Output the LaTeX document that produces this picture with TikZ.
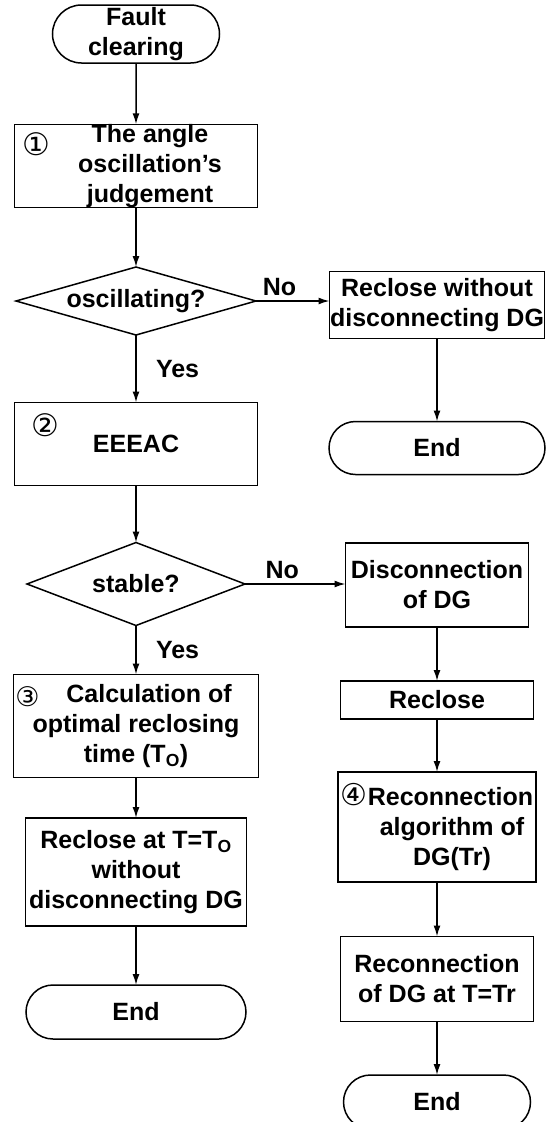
\documentclass[tikz,border=0pt]{standalone}
\usepackage{fontspec}
\setmainfont{Liberation Sans}
\newfontfamily\circfont{DejaVu Sans}
\usetikzlibrary{positioning,shapes.geometric,shapes.misc,arrows.meta}

\tikzset{
    every node/.style={font=\bfseries\fontsize{25}{30}\selectfont, align=center,
        inner sep=0pt, outer sep=0pt},
    stepbox/.style={rectangle, draw, line width=1.5pt},
    term/.style={rounded rectangle, draw, line width=1.5pt},
    decision/.style={diamond, draw, line width=1.5pt},
    num/.style={font=\circfont\mdseries\fontsize{31}{31}\selectfont},
    flow/.style={->, line width=1.5pt, >={Latex[length=11pt,width=7pt]}}
}

\begin{document}
\begin{tikzpicture}[x=1pt, y=1pt]
    \useasboundingbox (0,0) rectangle (547,-1122);
    
    % Left column
    \node[term, minimum width=167pt, minimum height=58pt] (start) at (136,-34) {Fault\\clearing};
    \node[stepbox, minimum width=243pt, minimum height=83pt] (judge) at (136,-166)
    	{\hspace*{28pt}The angle\\\hspace*{28pt}oscillation’s\\\hspace*{28pt}judgement};
    \node[decision, shape aspect=3.5, minimum width=240pt, minimum height=68pt] (osc) at (136,-301) {oscillating?};
    \node[stepbox, minimum width=243pt, minimum height=83pt] (eeeac) at (136,-444) {EEEAC};
    \node[decision, shape aspect=2.6, minimum width=218pt, minimum height=83pt] (stable) at (136,-584) {stable?};
    \node[stepbox, minimum width=245pt, minimum height=103pt] (calc) at (136,-726)
    	{\hspace*{26pt}Calculation of\\optimal reclosing\\time (T\textsubscript{O})};
    \node[stepbox, minimum width=221pt, minimum height=108pt] (reclT) at (136,-872)
    	{Reclose at T=T\textsubscript{O}\\without\\disconnecting DG};
    \node[term, minimum width=220pt, minimum height=54pt] (end2) at (136,-1012) {End};
    
    % Right column
    \node[stepbox, minimum width=215pt, minimum height=67pt] (recl1) at (437,-305)
    	{Reclose without\\disconnecting DG};
    \node[term, minimum width=216pt, minimum height=53pt] (end1) at (437,-448) {End};
    \node[stepbox, minimum width=183pt, minimum height=84pt] (disc) at (437,-585)
    	{Disconnection\\of DG};
    \node[stepbox, minimum width=193pt, minimum height=38pt] (reclose) at (437,-700) {Reclose};
    \node[stepbox, minimum width=198pt, minimum height=110pt] (recalg) at (437,-827)
    	{{\circfont\mdseries\fontsize{30}{30}\selectfont ④}Reconnection\\\hspace*{30pt}algorithm of\\\hspace*{30pt}DG(Tr)};
    \node[stepbox, minimum width=193pt, minimum height=85pt] (recon) at (437,-979)
    	{Reconnection\\of DG at T=Tr};
    \node[term, minimum width=187pt, minimum height=54pt] (end3) at (437,-1102) {End};
    
    % Step numbers
    \node[num] (num1) at ([xshift=22pt, yshift=-20pt]judge.north west) {①};
    \node[num] (num2) at ([xshift=31pt, yshift=-23pt]eeeac.north west) {②};
    \node[num, font=\circfont\mdseries\fontsize{27}{27}\selectfont] (num3)
    	at ([xshift=14pt, yshift=-22pt]calc.north west) {③};
    
    % Connect left column
    \draw[flow] (start) -- (judge);
    \draw[flow] (judge) -- (osc);
    \draw[flow] (osc) -- node[right=20pt] {Yes} (eeeac);
    \draw[flow] (eeeac) -- (stable);
    \draw[flow] (stable) -- node[right=20pt] {Yes} (calc);
    \draw[flow] (calc) -- (reclT);
    \draw[flow] (reclT) -- (end2);
    
    % Connect right column
    \draw[flow] (osc.east) -- node[pos=0.32, above=5pt] {No} (osc.east -| recl1.west);
    \draw[flow] (recl1) -- (end1);
    \draw[flow] (stable.east) -- node[pos=0.37, above=5pt] {No} (stable.east -| disc.west);
    \draw[flow] (disc) -- (reclose);
    \draw[flow] (reclose) -- (recalg);
    \draw[flow] (recalg) -- (recon);
    \draw[flow] (recon) -- (end3);
\end{tikzpicture}
\end{document}
